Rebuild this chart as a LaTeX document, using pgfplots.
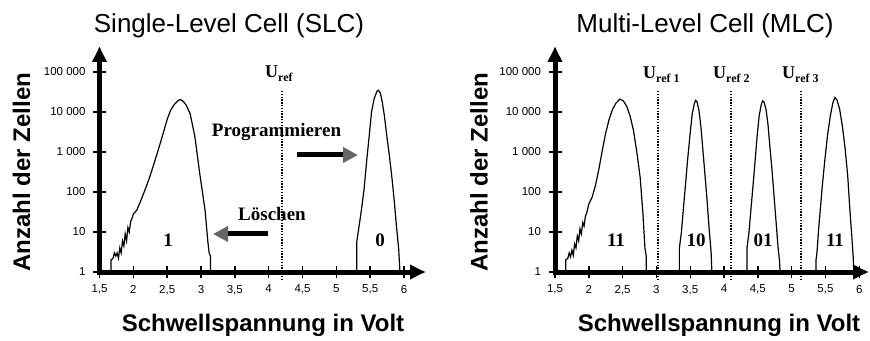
\documentclass[border=0pt]{standalone}
\usepackage{fontspec}
\setmainfont{Liberation Serif}
\setsansfont{Liberation Sans}
\newfontfamily\arial{Liberation Sans}
\usepackage{graphicx}
\usepackage{pgfplots}
\pgfplotsset{compat=1.18}
\usetikzlibrary{arrows.meta}

\pgfplotsset{
  flashaxis/.style={
    scale only axis, anchor=south west,
    height=225pt,
    axis lines=left,
    ymin=1, ymax=421696,
    xmin=1.5,
    ytick={1,10,100,1000,10000,100000},
    yticklabels={1,10,100,{1 000},{10 000},{100 000}},
    xtick={1.5,2,2.5,3,3.5,4,4.5,5,5.5,6},
    xticklabels={{1,5},2,{2,5},3,{3,5},4,{4,5},5,{5,5},6},
    yminorticks=false,
    tick align=center,
    major tick length=13pt,
    every tick/.style={black, line width=1.4pt},
    tick label style={font=\arial\fontsize{11.5}{12}\selectfont},
    x tick label style={yshift=-3pt},
    y tick label style={xshift=-4pt},
    clip=false,
  },
  curve/.style={black, line width=1.2pt, mark=none},
  uref/.style={black, line width=2pt, dash pattern=on 1.5pt off 1.3pt, mark=none},
}
\newcommand\axisframe{%
  \draw[black, line width=5pt, line join=miter,
        {Triangle[length=15pt,width=14pt]}-{Triangle[length=15pt,width=14pt]}]
    (rel axis cs:0,1) -- (rel axis cs:0,0) -- (rel axis cs:1,0);}

\begin{document}
\begin{tikzpicture}
\useasboundingbox (0pt,0pt) rectangle (870pt,340pt);

% ---------------- SLC ----------------
\begin{semilogyaxis}[flashaxis, at={(99.5pt,68pt)}, width=325.5pt, xmax=6.31]
\addplot[curve] coordinates {
(1.67,1)(1.67,2)(1.70,2.2)(1.72,3)(1.74,2.5)(1.76,3)(1.78,2.2)(1.80,4)(1.82,3)
(1.84,6)(1.86,4.5)(1.88,9)(1.90,6)(1.92,13)(1.94,10)(1.96,18)(1.98,22)(2.0,28)
(2.05,35)(2.10,55)(2.15,90)(2.20,150)(2.25,260)(2.30,480)(2.35,900)(2.40,1700)
(2.45,3300)(2.50,6500)(2.55,11000)(2.60,15000)(2.65,18500)(2.69,20500)(2.73,19000)
(2.78,15000)(2.84,9000)(2.91,2400)(2.98,300)(3.06,35)(3.10,6)(3.12,3)(3.14,2.5)(3.14,1)
};
\addplot[curve] coordinates {
(5.30,1)(5.30,5.5)(5.33,12)(5.37,35)(5.41,120)(5.45,650)(5.49,3000)(5.52,10000)
(5.56,22000)(5.60,33000)(5.62,35000)(5.65,30000)(5.68,17000)(5.71,8000)(5.74,3000)
(5.78,900)(5.82,240)(5.86,50)(5.89,13)(5.92,4)(5.94,1)
};
\addplot[uref] coordinates {(4.19,0.63)(4.19,35000)};
\axisframe
\end{semilogyaxis}

% ---------------- MLC ----------------
\begin{semilogyaxis}[flashaxis, at={(555pt,68pt)}, width=313pt, xmax=6.13]
\addplot[curve] coordinates {
(1.66,1)(1.66,2)(1.69,2.2)(1.71,3)(1.73,2.4)(1.75,3.5)(1.77,2.6)(1.79,5)(1.81,4)
(1.83,8)(1.85,6)(1.87,12)(1.89,9)(1.91,17)(1.93,14)(1.95,25)(1.97,30)(2.0,50)
(2.05,75)(2.10,150)(2.15,380)(2.20,1100)(2.25,3000)(2.30,6500)(2.35,11500)
(2.40,16500)(2.46,21000)(2.51,19000)(2.56,14000)(2.61,8000)(2.66,3500)(2.71,1000)
(2.76,230)(2.80,30)(2.83,4)(2.85,2.5)(2.85,1)
};
\addplot[curve] coordinates {
(3.34,1)(3.34,4)(3.37,10)(3.40,40)(3.43,150)(3.46,600)(3.50,3000)(3.53,9000)
(3.56,16000)(3.58,19500)(3.60,18000)(3.63,11000)(3.66,4000)(3.69,1000)(3.72,250)
(3.75,60)(3.78,12)(3.81,3)(3.82,1)
};
\addplot[curve] coordinates {
(4.34,1)(4.34,4)(4.37,10)(4.40,40)(4.43,150)(4.46,600)(4.49,2500)(4.52,8000)
(4.55,15000)(4.57,19000)(4.59,18000)(4.62,12000)(4.65,5000)(4.68,1300)(4.71,350)
(4.74,80)(4.77,18)(4.80,4)(4.82,2)(4.83,1)
};
\addplot[curve] coordinates {
(5.36,1)(5.36,2)(5.37,2.5)(5.38,4)(5.40,12)(5.42,30)(5.45,120)(5.49,600)(5.53,2500)
(5.57,7500)(5.61,17000)(5.64,23000)(5.67,20000)(5.71,12000)(5.75,4500)(5.79,1300)
(5.83,250)(5.86,40)(5.89,8)(5.91,2.5)(5.92,1)
};
\addplot[uref] coordinates {(3.03,0.63)(3.03,35000)};
\addplot[uref] coordinates {(4.10,0.63)(4.10,35000)};
\addplot[uref] coordinates {(5.14,0.63)(5.14,35000)};
\axisframe
\end{semilogyaxis}

% ---------------- titles & labels ----------------
\node[anchor=base, font=\arial\fontsize{26}{30}\selectfont] at (229pt,307pt) {Single-Level Cell (SLC)};
\node[anchor=base, font=\arial\fontsize{26}{30}\selectfont] at (705pt,307pt) {Multi-Level Cell (MLC)};
\node[anchor=base, font=\arial\bfseries\fontsize{24}{28}\selectfont] at (263pt,9pt) {Schwellspannung in Volt};
\node[anchor=base, font=\arial\bfseries\fontsize{24}{28}\selectfont] at (719pt,9pt) {Schwellspannung in Volt};
\node[rotate=90, font=\arial\bfseries\fontsize{24}{28}\selectfont] at (21.5pt,168pt) {Anzahl der Zellen};
\node[rotate=90, font=\arial\bfseries\fontsize{24}{28}\selectfont] at (479pt,168pt) {Anzahl der Zellen};

% ---------------- annotations ----------------
\tikzset{ann/.style={font=\bfseries\fontsize{19}{20}\selectfont, inner sep=0pt},
         urefl/.style={anchor=base west, inner sep=0pt, font=\bfseries\fontsize{18}{18}\selectfont}}
\node[urefl] at (265pt,262pt) {U\raisebox{-4pt}{\fontsize{12}{12}\selectfont ref}};
\node[ann, anchor=base] at (276.5pt,203pt) {Programmieren};
\node[ann, anchor=base] at (272pt,119pt) {Löschen};
\node[ann, anchor=base] at (168pt,93pt) {1};
\node[ann, anchor=base] at (380pt,93pt) {0};
\draw[line width=5pt, -{Triangle[length=15pt,width=15pt,color=gray!80!black]}] (297pt,185pt) -- (358pt,185pt);
\draw[line width=5pt, -{Triangle[length=15pt,width=15pt,color=gray!80!black]}] (268pt,106pt) -- (213pt,106pt);

\node[urefl] at (643pt,261pt) {U\raisebox{-4pt}{\fontsize{12}{12}\selectfont ref 1}};
\node[urefl] at (713pt,261pt) {U\raisebox{-4pt}{\fontsize{12}{12}\selectfont ref 2}};
\node[urefl] at (782pt,261pt) {U\raisebox{-4pt}{\fontsize{12}{12}\selectfont ref 3}};
\node[ann, anchor=base] at (616pt,93pt) {11};
\node[ann, anchor=base] at (696pt,93pt) {10};
\node[ann, anchor=base] at (763pt,93pt) {01};
\node[ann, anchor=base] at (835pt,93pt) {11};
\end{tikzpicture}
\end{document}
